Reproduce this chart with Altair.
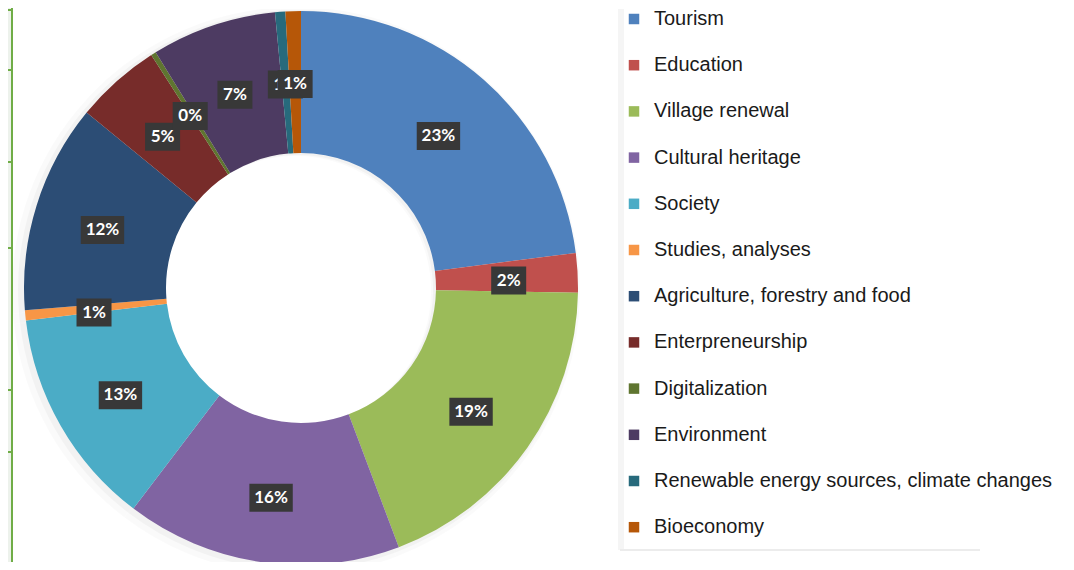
import altair as alt
import pandas as pd

categories = ["Tourism", "Education", "Village renewal", "Cultural heritage", "Society",
              "Studies, analyses", "Agriculture, forestry and food", "Enterpreneurship",
              "Digitalization", "Environment", "Renewable energy sources, climate changes",
              "Bioeconomy"]
values = [23.0, 2.3, 19.0, 16.1, 12.8, 0.6, 12.2, 5.0, 0.3, 7.3, 0.6, 0.9]
labels = ["23%", "2%", "19%", "16%", "13%", "1%", "12%", "5%", "0%", "7%", "1%", "1%"]
colors = ["#4f81bd", "#c0504d", "#9bbb59", "#8064a2", "#4bacc6", "#f79646",
          "#2c4d75", "#772c2a", "#5f7530", "#4d3b62", "#276a7c", "#b65708"]

df = pd.DataFrame({"cat": categories, "value": values, "label": labels,
                   "idx": list(range(len(categories)))})

W, H = 1058, 554
CX, CY = 293, 280
R_OUT, R_IN, R_LAB = 277, 135, 208

base = alt.Chart(df)

color = alt.Color("cat:N", scale=alt.Scale(domain=categories, range=colors),
                  sort=categories,
                  legend=alt.Legend(title=None, orient="none", legendX=616, legendY=1,
                                    symbolType="square", symbolSize=110, symbolStrokeWidth=0,
                                    labelFont="Liberation Sans", labelFontSize=20,
                                    labelColor="#1a1a1a", labelOffset=10, rowPadding=26.2,
                                    labelLimit=600, padding=0))

shadow1 = base.mark_arc(radius=R_OUT + 7, radius2=R_IN, color="#000000", opacity=0.02).encode(
    theta=alt.Theta("value:Q", stack=True), order=alt.Order("idx:Q"),
    x=alt.value(CX - 5), y=alt.value(CY + 3))
shadow2 = base.mark_arc(radius=R_OUT + 3, radius2=R_IN, color="#000000", opacity=0.03).encode(
    theta=alt.Theta("value:Q", stack=True), order=alt.Order("idx:Q"),
    x=alt.value(CX - 3), y=alt.value(CY + 2))

arcs = base.mark_arc(radius=R_OUT, radius2=R_IN).encode(
    theta=alt.Theta("value:Q", stack=True),
    order=alt.Order("idx:Q"),
    color=color,
    x=alt.value(CX), y=alt.value(CY),
)

pos = base.transform_window(
    cum="sum(value)", sort=[{"field": "idx"}]
).transform_joinaggregate(total="sum(value)").transform_calculate(
    mid="(datum.cum - datum.value/2)/datum.total*2*PI",
    lx=f"{R_LAB}*sin(datum.mid)",
    ly=f"{R_LAB}*cos(datum.mid) - 4",
    nchar="length(datum.label)",
)

xs = alt.X("lx:Q", scale=alt.Scale(domain=[-CX, W - CX]), axis=None)
ys = alt.Y("ly:Q", scale=alt.Scale(domain=[-(H - CY), CY]), axis=None)

narrow = "M-1.25,-1H1.25V1H-1.25Z"
wide = "M-1.55,-1H1.55V1H-1.55Z"

box = pos.mark_point(size=784, filled=True, color="#383838", opacity=1, strokeWidth=0).encode(
    x=xs, y=ys,
    shape=alt.Shape("nchar:O", scale=alt.Scale(domain=[2, 3], range=[narrow, wide]), legend=None))
txt = pos.mark_text(font="Lato", fontWeight="bold", fontSize=17, color="#ffffff",
                    baseline="middle", align="center").encode(
    x=xs, y=ys, text="label:N")

label_layers = []
for i in range(len(categories)):
    f = alt.FieldEqualPredicate(field="idx", equal=i)
    label_layers.append(box.transform_filter(f))
    label_layers.append(txt.transform_filter(f))

one = pd.DataFrame({"a": [0]})
strip = alt.Chart(one).mark_rect(color="#edf2ec").encode(
    x=alt.value(0), x2=alt.value(4), y=alt.value(0), y2=alt.value(H))
vline = alt.Chart(one).mark_rule(color="#70ad47", strokeWidth=2).encode(
    x=alt.value(4), y=alt.value(0), y2=alt.value(H))
table_rows = [2, 62, 154, 240, 382, 444]
hlines = [alt.Chart(one).mark_rule(color="#70ad47", strokeWidth=2).encode(
    x=alt.value(0), x2=alt.value(4), y=alt.value(ty)) for ty in table_rows]

legend_edge = alt.Chart(one).mark_rule(color="#ececec", strokeWidth=2).encode(
    x=alt.value(612), x2=alt.value(972), y=alt.value(542))
legend_left = alt.Chart(one).mark_rule(color="#f5f5f5", strokeWidth=6).encode(
    x=alt.value(613), y=alt.value(0), y2=alt.value(542))
top_cover = alt.Chart(one).mark_rule(color="#ffffff", strokeWidth=2).encode(
    x=alt.value(5), x2=alt.value(W), y=alt.value(0))

chart = alt.layer(strip, vline, *hlines, legend_left, legend_edge, shadow1, shadow2, arcs,
                  *label_layers, top_cover).properties(
    width=W, height=H, autosize=alt.AutoSizeParams(type="none"), padding=0
).resolve_scale(x="shared", y="shared").configure_view(strokeWidth=0, stroke="transparent").configure_axis(
    disable=True).configure(background="#ffffff")

chart.save("out.html", embed_options={"renderer": "svg", "actions": False})
